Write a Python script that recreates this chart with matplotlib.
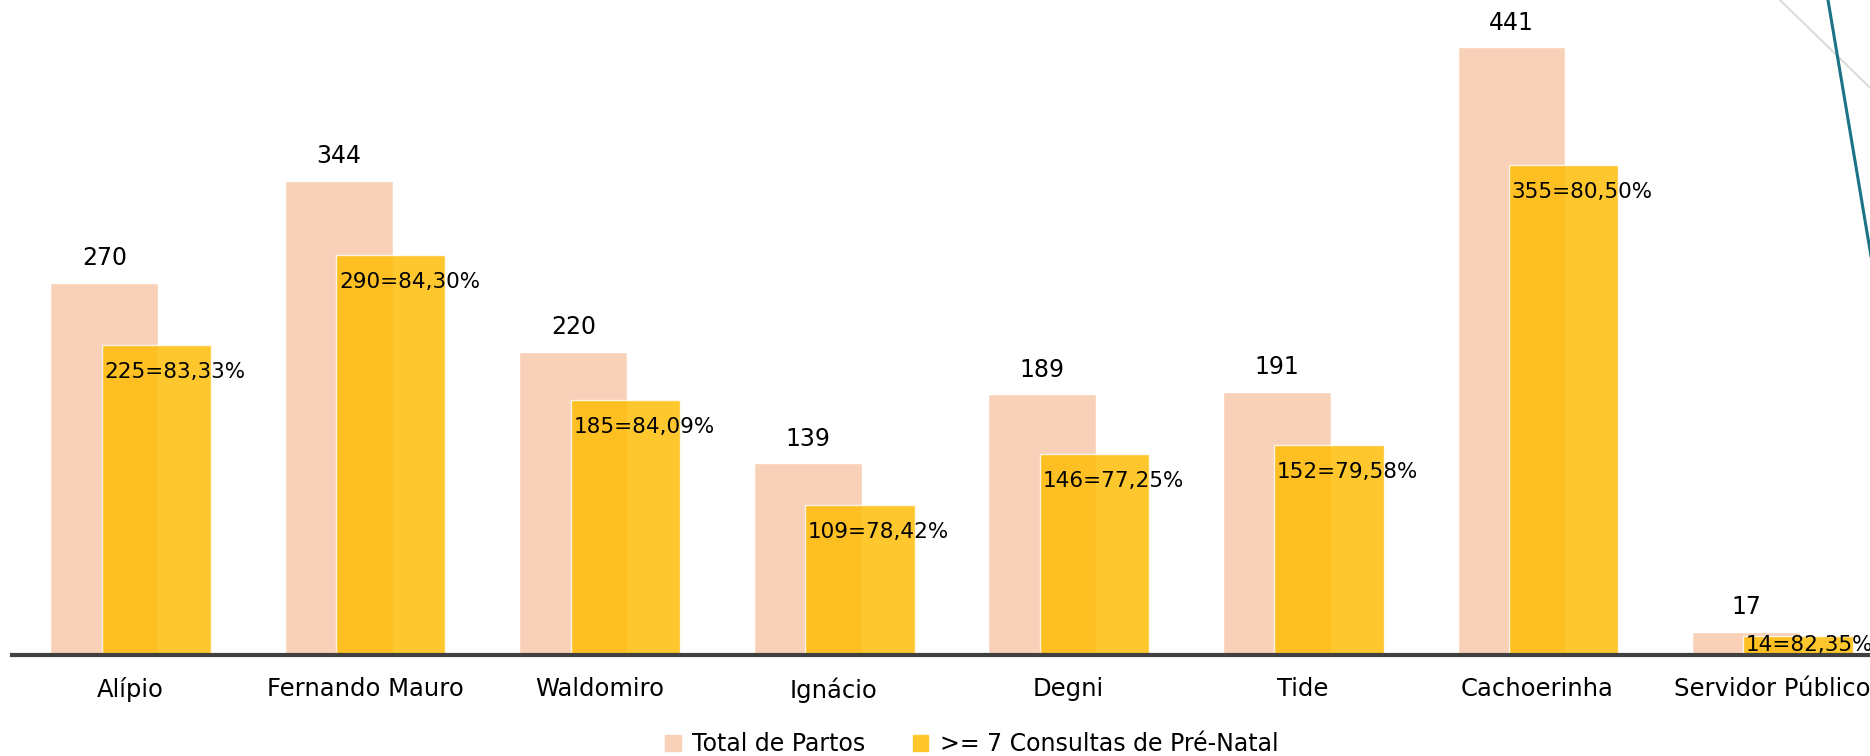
import matplotlib
matplotlib.use('Agg')
import matplotlib.pyplot as plt
from matplotlib.lines import Line2D
import numpy as np

# data
units = ['Alípio', 'Fernando Mauro', 'Waldomiro', 'Ignácio', 'Degni',
         'Tide', 'Cachoerinha', 'Servidor Público']
total_partos = [270, 344, 220, 139, 189, 191, 441, 17]
consultas_7 = [225, 290, 185, 109, 146, 152, 355, 14]

peach = '#F8D1B8'
gold = '#FFBB00'

W, H = 1870, 756
fig = plt.figure(figsize=(W / 100, H / 100), dpi=100)
ax = fig.add_axes([12 / W, 101 / H, 1 - 12 / W, 655 / H])

x = np.arange(len(units))
bw = 0.46
off = 0.111

ax.bar(x - off, total_partos, width=bw, color=peach, edgecolor='white',
       linewidth=1, zorder=2)
ax.bar(x + off, consultas_7, width=bw + 0.005, color=gold, alpha=0.82,
       edgecolor='white', linewidth=1, zorder=3)

# labels on top of the total bars
for xi, v in zip(x, total_partos):
    ax.annotate(str(v), (xi - off, v), xytext=(0, 17.5), textcoords='offset points',
                ha='center', va='center', fontsize=17, color='black', zorder=5)

# labels inside the gold bars
for xi, c, t in zip(x, consultas_7, total_partos):
    pct = f'{100 * c / t:.2f}'.replace('.', ',')
    ty = max(c - 19.5, c / 2)
    ax.annotate(f'{c}={pct}%', (xi + off - bw / 2, ty), xytext=(1.5, 0),
                textcoords='offset points', ha='left', va='center',
                fontsize=15.5, color='black', zorder=5)

ax.set_xlim(-0.505, 7.418)
ax.set_ylim(0, 475)
ax.set_xticks(x)
ax.set_xticklabels(units, fontsize=17.5)
ax.tick_params(axis='x', length=0, pad=16)
ax.set_yticks([])
for s in ['top', 'right', 'left']:
    ax.spines[s].set_visible(False)
ax.spines['bottom'].set_color('#404040')
ax.spines['bottom'].set_linewidth(3)
ax.spines['bottom'].set_zorder(4)
ax.patch.set_alpha(0)

handles = [plt.Rectangle((0, 0), 1, 1, color=peach),
           plt.Rectangle((0, 0), 1, 1, color='#FFC72C')]
fig.legend(handles, ['Total de Partos', '>= 7 Consultas de Pré-Natal'],
           loc='center', bbox_to_anchor=(972 / W, 1 - 744 / H), ncol=2,
           frameon=False, fontsize=17, handlelength=0.65, handleheight=0.65,
           handletextpad=0.5, columnspacing=2.0)

# decorative lines in the top right corner
fig.add_artist(Line2D([1780 / W, 1900 / W], [1, 1 - 117 / H],
                      transform=fig.transFigure, color='#D9D9D9', lw=1.4))
fig.add_artist(Line2D([1828 / W, 1875 / W], [1, 1 - 280 / H],
                      transform=fig.transFigure, color='#1B7385', lw=2.2))

fig.savefig('out.png', dpi=100)
